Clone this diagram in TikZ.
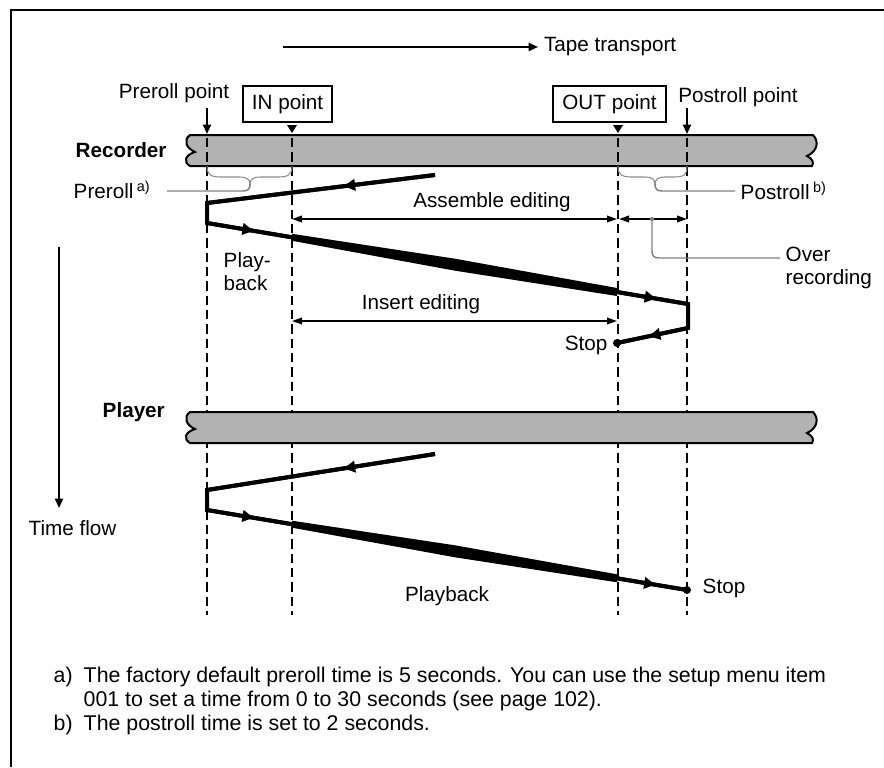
\documentclass[tikz,border=0pt]{standalone}
\usepackage{fontspec}
\setmainfont{Liberation Sans}
\usetikzlibrary{arrows.meta,decorations.markings}
% tape strip with broken ends, #1 = top edge
\newcommand\tapestrip[1]{{%
  \draw[tape] (190,#1) -- (813,#1)
    .. controls (819,#1+6) and (818,#1+16) .. (807,#1+21)
    .. controls (813,#1+24) and (814,#1+28) .. (812,#1+31)
    -- (190,#1+31)
    .. controls (183,#1+27) and (185,#1+20) .. (195,#1+17)
    .. controls (186,#1+13) and (183,#1+5) .. cycle;}}
% filled point marker above the tape, #1 = x
\newcommand\ptmark[1]{\fill (#1-5,125) -- (#1+5,125) -- (#1,133) -- cycle;}
% swelling band between IN and OUT, centre y at x = 292, 455, 617
\newcommand\bandfill[3]{\fill (292,#1-3.5) -- (455,#2-6) -- (617,#3-4)
  -- (617,#3+4) -- (455,#2+6) -- (292,#1+3.5) -- cycle;}

\begin{document}
\begin{tikzpicture}[x=0.75pt,y=-0.75pt,line width=1.1pt,
  txt/.style={font=\fontsize{15.5}{17.25}\selectfont,inner sep=0pt},
  note/.style={font=\fontsize{16}{18}\selectfont,inner sep=0pt,anchor=west},
  bold/.style={txt,font=\fontsize{15.5}{17.25}\selectfont\bfseries},
  ptbox/.style={txt,draw,line width=1pt,minimum height=27pt},
  tape/.style={fill=black!30,draw=black,line width=1.5pt},
  guide/.style={line width=1pt,dash pattern=on 7pt off 3.75pt},
  headpath/.style={line width=3pt,line join=miter},
  span/.style={line width=1.1pt,{Triangle[length=7.5pt,width=5pt]}-{Triangle[length=7.5pt,width=5pt]}},
  pointer/.style={line width=1.4pt,-{Triangle[length=7pt,width=6pt]}},
  leader/.style={draw=black!50,line width=1.1pt},
  brace/.style={draw=black!45,line width=0.8pt},
  flowmark/.style={postaction={decorate},decoration={markings,
    mark=at position #1 with {\arrow{Triangle[length=8.5pt,width=8.5pt]}}}}]
\useasboundingbox (0,0) rectangle (884,767);
% ---------- frame and tape transport ----------
\draw[line width=1.1pt] (11,767) -- (11,10) -- (884,10);
\coordinate (ttail) at (283,47);
\node[txt,anchor=west,inner xsep=4pt] (transport) at (538,47) {Tape transport};
\draw[pointer] (ttail) -- (transport.west);
% ---------- recorder tape, guides, player tape ----------
\tapestrip{135}
\node[bold,anchor=west] (recorder) at (75,150) {Recorder};
\foreach \x in {207,292,618,687}
  \draw[guide] (\x,138) -- (\x,615);
\tapestrip{412}
\node[bold,anchor=west] (player) at (102,412) {Player};
% ---------- points above the recorder ----------
\node[txt] (prerollpt) at (174,93) {Preroll point};
\node[txt] (postrollpt) at (738,97) {Postroll point};
\node[ptbox,minimum width=66.75pt] (inpt) at (287.5,104) {IN point};
\node[ptbox,minimum width=84.75pt] (outpt) at (609.5,104) {OUT point};
\coordinate (prearr) at (207,108);
\coordinate (postarr) at (687,108);
\draw[pointer] (prearr) -- +(0,26);
\draw[pointer] (postarr) -- +(0,26);
\ptmark{292}\ptmark{618}
% ---------- preroll / postroll braces ----------
\draw[brace] (207,166) .. controls (207,175) and (211,177) .. (221,177) -- (239,177)
  .. controls (247,177) and (250,179) .. (250,185)
  .. controls (250,179) and (253,177) .. (261,177) -- (278,177)
  .. controls (288,177) and (292,175) .. (292,166);
\node[txt,anchor=west] (preroll) at (73,190) {Preroll\,\textsuperscript{a)}};
\draw[leader] (250,184) .. controls (250,189) and (248,191) .. (243,191) -- (167,191);
\draw[brace] (618,166) .. controls (618,175) and (622,177) .. (631,177) -- (645,177)
  .. controls (652,177) and (655,179) .. (655,185)
  .. controls (655,179) and (658,177) .. (665,177) -- (674,177)
  .. controls (684,177) and (687,175) .. (687,166);
\node[txt,anchor=west] (postroll) at (740,191) {Postroll\,\textsuperscript{b)}};
\draw[leader] (655,184) .. controls (655,189) and (657,191) .. (662,191) -- (735,191);
% ---------- editing spans ----------
\node[txt] (assemble) at (492,202) {Assemble editing};
\draw[span] (292,219) -- (617,219);
\draw[span] (619,219) -- (687,219);
\node[txt] (insert) at (421,304) {Insert editing};
\draw[span] (292,321) -- (617,321);
\fill[black!50] (652,219) circle (1.6pt);
\node[txt,anchor=west,align=left] (overrec) at (785,268) {Over\\recording};
\draw[leader] (652,219) -- (652,251) .. controls (652,256) and (654,258) .. (659,258) -- (780,258);
% ---------- recorder head path ----------
\draw[headpath] (435,175) -- (207,203) -- (207,223) -- (688,304) -- (688,328) -- (617,343);
\bandfill{237.3}{264.7}{292}
\draw[headpath,flowmark=0.4] (435,175) -- (207,203);
\draw[headpath,flowmark=0.55] (207,223) -- (292,237.3);
\draw[headpath,flowmark=0.55] (617,292) -- (688,304);
\draw[headpath,flowmark=0.55] (688,328) -- (617,343);
\fill (617,343) circle (3pt);
\node[txt,anchor=east] (recstop) at (608,345) {Stop};
\node[txt,anchor=west,align=left] (playback1) at (223,272) {Play-\\back};
% ---------- player head path ----------
\draw[headpath] (435,454) -- (207,490) -- (207,510) -- (687,590);
\bandfill{524.2}{551.3}{578.3}
\draw[headpath,flowmark=0.4] (435,454) -- (207,490);
\draw[headpath,flowmark=0.55] (207,510) -- (292,524.2);
\draw[headpath,flowmark=0.55] (617,578.3) -- (687,590);
\fill (687,590) circle (3pt);
\node[txt,anchor=west] (plstop) at (702,588) {Stop};
\node[txt] (playback2) at (447,596) {Playback};
% ---------- time flow ----------
\coordinate (tftop) at (59,247);
\node[txt,anchor=west] (timeflow) at (28,528) {Time flow};
\draw[pointer] (tftop) -- (59,508);
% ---------- footnotes ----------
\node[note] (fna) at (53,677) {a)};
\node[note] (fnaone) at (83,677) {The factory default preroll time is 5 seconds. You can use the setup menu item};
\node[note] (fnatwo) at (83,701) {001 to set a time from 0 to 30 seconds (see page 102).};
\node[note] (fnb) at (53,725) {b)};
\node[note] (fnbone) at (83,725) {The postroll time is set to 2 seconds.};
\end{tikzpicture}
\end{document}
